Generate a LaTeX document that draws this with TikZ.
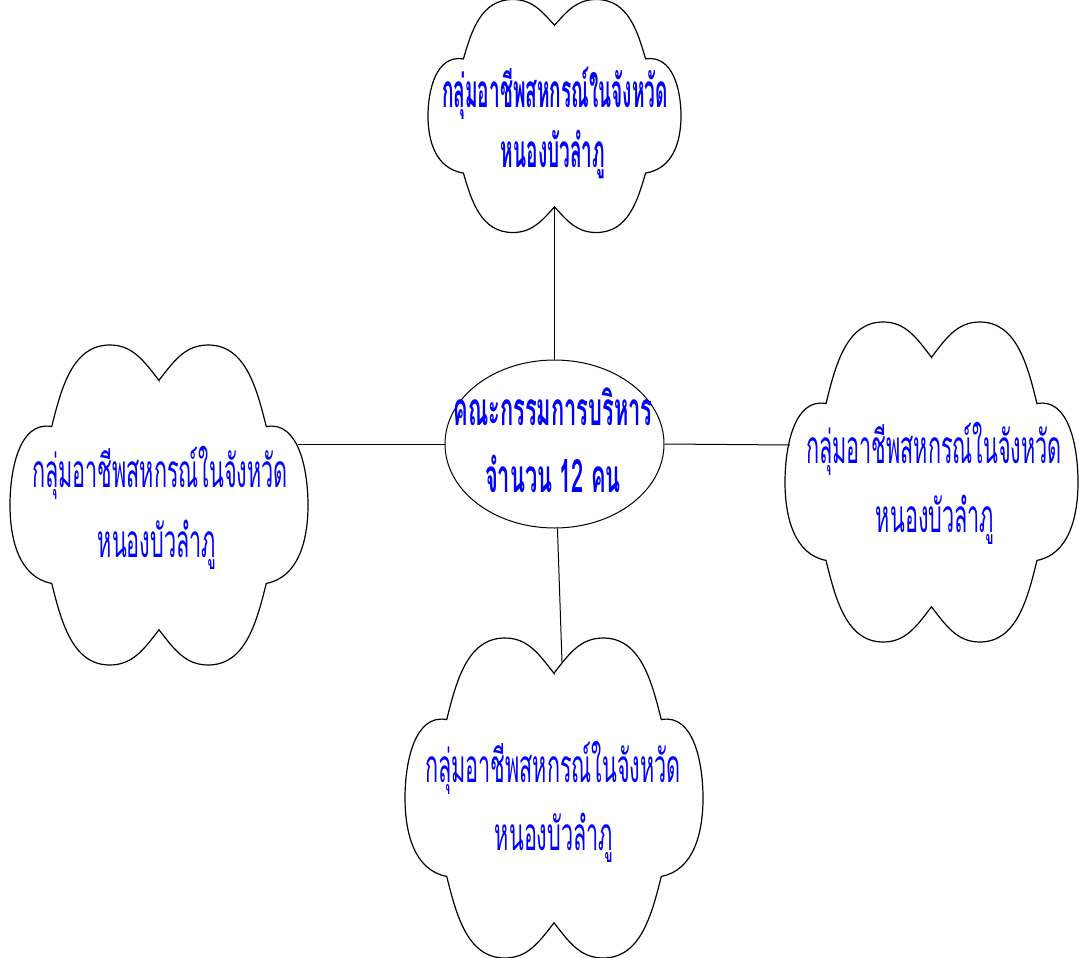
\documentclass[tikz,border=0pt]{standalone}
\usepackage{fontspec}
\newfontfamily\thaiR[Script=Thai,FakeStretch=0.47]{Loma}
\newfontfamily\thaiB[Script=Thai,FakeStretch=0.415]{Loma}
\newfontfamily\thaiC[Script=Thai,FakeStretch=0.475]{Loma}
\usetikzlibrary{shapes.geometric}
\definecolor{tblue}{RGB}{0,0,255}
\tikzset{
  cloudline/.style={draw=black,line width=1.2pt,fill=white},
  link/.style={draw=black,line width=1pt},
  txt/.style={text=tblue,anchor=base,inner sep=0pt,font=\thaiR\fontsize{46}{46}\selectfont},
  btxt/.style={txt,font=\thaiB\bfseries\fontsize{46}{46}\selectfont},
  ctxt/.style={txt,font=\thaiC\bfseries\fontsize{46}{46}\selectfont},
}
\newcommand\mycloud[5]{%
  \begin{scope}[shift={(#2,-#3)},xscale=#4,yscale=#5]
    \path[cloudline] (0,0.78) to[out=50,in=180] (0.33,1) to[out=0,in=105] (0.72,0.49)
      to[out=10,in=90] (1,0) to[out=-90,in=10] (0.72,-0.49)
      to[out=-105,in=0] (0.33,-1) to[out=180,in=-50] (0,-0.78)
      to[out=-130,in=0] (-0.33,-1) to[out=180,in=-75] (-0.72,-0.49)
      to[out=170,in=-90] (-1,0) to[out=90,in=170] (-0.72,0.49)
      to[out=75,in=180] (-0.33,1) to[out=0,in=130] cycle;
    \coordinate (#1-n) at (0,0.78);
    \coordinate (#1-s) at (0,-0.78);
  \end{scope}}
\begin{document}
\begin{tikzpicture}[x=1pt,y=1pt]
\useasboundingbox (0,0) rectangle (1079,-958);
% clouds
\mycloud{top}{554.5}{116}{126.5}{116.5}
\mycloud{left}{159}{505}{149}{160}
\mycloud{right}{931.5}{482}{146.5}{160}
\mycloud{bot}{554}{798}{149}{160}
% centre ellipse
\node[draw,ellipse,line width=1pt,minimum width=219pt,minimum height=168pt,inner sep=0pt] (ctr) at (554.5,-444) {};
% attachment points
\coordinate (left-att) at (298,-444);
\coordinate (right-att) at (790,-445);
\coordinate (bot-att) at (562,-662);
% connectors
\draw[link] (top-s) -- (ctr.north);
\draw[link] (left-att) -- (ctr.west);
\draw[link] (ctr.east) -- (right-att);
\draw[link] (ctr.-88) -- (bot-att);
% texts
\node[btxt] (t1) at (555,-107) {กลุ่มอาชีพสหกรณ์ในจังหวัด};
\node[btxt] (t2) at (553,-167) {หนองบัวลำภู};
\node[ctxt] (c1) at (553,-425) {คณะกรรมการบริหาร};
\node[ctxt] (c2) at (553,-492) {จำนวน 12 คน};
\node[txt] (l1) at (160,-487) {กลุ่มอาชีพสหกรณ์ในจังหวัด};
\node[txt] (l2) at (157,-557) {หนองบัวลำภู};
\node[txt] (r1) at (934,-463) {กลุ่มอาชีพสหกรณ์ในจังหวัด};
\node[txt] (r2) at (935,-532) {หนองบัวลำภู};
\node[txt] (b1) at (553,-782) {กลุ่มอาชีพสหกรณ์ในจังหวัด};
\node[txt] (b2) at (554,-850) {หนองบัวลำภู};
\end{tikzpicture}
\end{document}
